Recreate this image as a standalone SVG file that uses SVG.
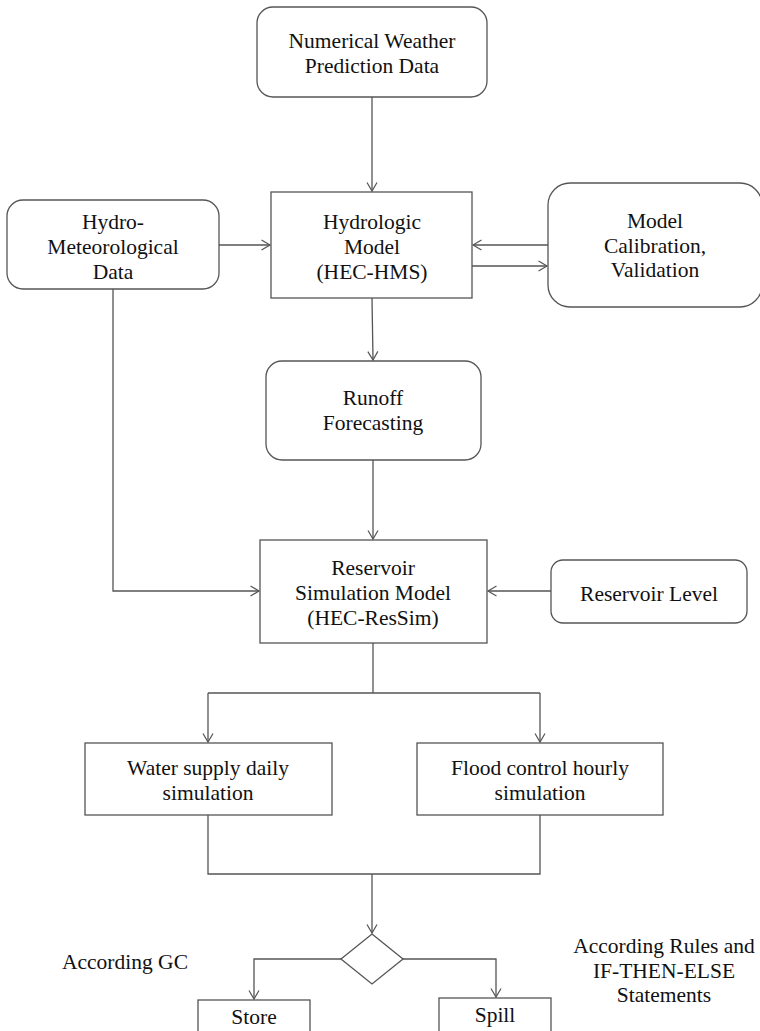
<svg xmlns="http://www.w3.org/2000/svg" width="760" height="1031" viewBox="0 0 760 1031">
<style>
.box{fill:#fff;stroke:#555;stroke-width:1.3}
.c{fill:none;stroke:#555;stroke-width:1.3}
text{font-family:"Liberation Serif","Times New Roman",serif;font-size:21.5px;fill:#111;text-anchor:middle}
</style>
<defs>
<marker id="ah" markerUnits="userSpaceOnUse" markerWidth="12" markerHeight="12" refX="10" refY="6" orient="auto">
<path d="M1.5,1 L10,6 L1.5,11" fill="none" stroke="#555" stroke-width="1.2"/>
</marker>
</defs>
<rect width="760" height="1031" fill="#fff"/>
<g id="connectors">
<path class="c" d="M372,97 V191" marker-end="url(#ah)"/>
<path class="c" d="M219,245 H270" marker-end="url(#ah)"/>
<path class="c" d="M548,245 H473" marker-end="url(#ah)"/>
<path class="c" d="M472,266 H547" marker-end="url(#ah)"/>
<path class="c" d="M372,298 L373,360" marker-end="url(#ah)"/>
<path class="c" d="M373,460 V539" marker-end="url(#ah)"/>
<path class="c" d="M113,289 V591 H259" marker-end="url(#ah)"/>
<path class="c" d="M551,591 H488" marker-end="url(#ah)"/>
<path class="c" d="M373,643 V693"/>
<path class="c" d="M208,693 H540"/>
<path class="c" d="M208,693 V742" marker-end="url(#ah)"/>
<path class="c" d="M540,693 V742" marker-end="url(#ah)"/>
<path class="c" d="M208,815 V874 H540 V815"/>
<path class="c" d="M372,874 V933" marker-end="url(#ah)"/>
<path class="c" d="M341,959 H254 V999" marker-end="url(#ah)"/>
<path class="c" d="M403,959 H496 V997" marker-end="url(#ah)"/>
</g>
<g id="nwp">
<rect class="box" x="257" y="7" width="230" height="90" rx="16"/>
<text x="372" y="48">Numerical Weather</text>
<text x="372" y="73">Prediction Data</text>
</g>
<g id="hydromet">
<rect class="box" x="7" y="200" width="212" height="89" rx="16"/>
<text x="113" y="229">Hydro-</text>
<text x="113" y="254">Meteorological</text>
<text x="113" y="279">Data</text>
</g>
<g id="hydrologic">
<rect class="box" x="271" y="192" width="201" height="106"/>
<text x="372" y="229">Hydrologic</text>
<text x="372" y="254">Model</text>
<text x="372" y="279">(HEC-HMS)</text>
</g>
<g id="calibration">
<rect class="box" x="548" y="183" width="214" height="124" rx="22"/>
<text x="655" y="228">Model</text>
<text x="655" y="253">Calibration,</text>
<text x="655" y="277">Validation</text>
</g>
<g id="runoff">
<rect class="box" x="266" y="361" width="215" height="99" rx="16"/>
<text x="373" y="405">Runoff</text>
<text x="373" y="430">Forecasting</text>
</g>
<g id="reservoir">
<rect class="box" x="260" y="540" width="227" height="103"/>
<text x="373" y="575">Reservoir</text>
<text x="373" y="600">Simulation Model</text>
<text x="373" y="625">(HEC-ResSim)</text>
</g>
<g id="level">
<rect class="box" x="551" y="560" width="196" height="63" rx="12"/>
<text x="649" y="601">Reservoir Level</text>
</g>
<g id="water">
<rect class="box" x="85" y="743" width="247" height="72"/>
<text x="208" y="775">Water supply daily</text>
<text x="208" y="800">simulation</text>
</g>
<g id="flood">
<rect class="box" x="417" y="743" width="246" height="72"/>
<text x="540" y="775">Flood control hourly</text>
<text x="540" y="800">simulation</text>
</g>
<g id="decision">
<polygon class="box" points="372,934 403,959 372,984 341,959"/>
</g>
<g id="store">
<rect class="box" x="198" y="1000" width="112" height="40"/>
<text x="254" y="1024">Store</text>
</g>
<g id="spill">
<rect class="box" x="439" y="998" width="112" height="40"/>
<text x="495" y="1022">Spill</text>
</g>
<g id="label-gc">
<text x="125" y="969">According GC</text>
</g>
<g id="label-rules">
<text x="664" y="953">According Rules and</text>
<text x="664" y="978">IF-THEN-ELSE</text>
<text x="664" y="1002">Statements</text>
</g>
</svg>
